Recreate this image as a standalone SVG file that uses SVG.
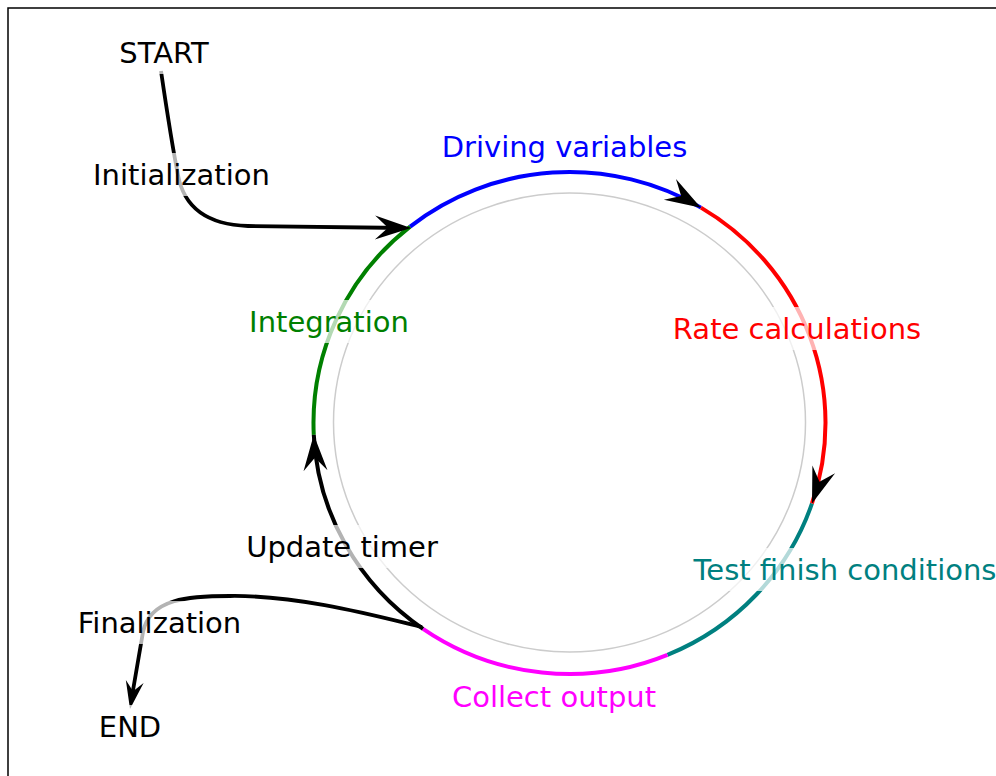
<svg xmlns="http://www.w3.org/2000/svg" xmlns:xlink="http://www.w3.org/1999/xlink" width="996" height="776" viewBox="0 0 996 776">
<style>
  .lbl { font-family: "DejaVu Sans", "Liberation Sans", sans-serif; font-size: 29px; text-anchor: middle; }
  .bg { fill: #ffffff; fill-opacity: 0.7; stroke: none; }
  .arc { fill: none; stroke-width: 4; stroke-linecap: butt; }
  .con { fill: none; stroke: #000000; stroke-width: 3.8; stroke-linecap: butt; stroke-linejoin: round; }
  .head { fill: #000000; stroke: none; }
</style>
<defs>
  <path id="ah" d="M0,0 L-36,-12 L-23,0 L-36,12 Z"/>
  <path id="ahs" d="M0,0 L-28,-9 L-18,0 L-28,9 Z"/>
</defs>
<rect x="8" y="8" width="1000" height="800" fill="#ffffff" stroke="#000000" stroke-width="1.5"/>
<ellipse cx="569.5" cy="422.5" rx="236" ry="229.5" fill="none" stroke="#cccccc" stroke-width="1.5"/>
<g id="connectors">
  <path class="arc" stroke="#008000" d="M313.78,434.82 A256,251 0 0 1 410.14,226.56"/>
  <path class="arc" stroke="#008080" d="M811.99,503.47 A256,251 0 0 1 667.47,654.89"/>
  <path class="arc" stroke="#ff00ff" d="M667.47,654.89 A256,251 0 0 1 423.03,628.86"/>
  <path class="arc" stroke="#0000ff" d="M410.14,226.56 A256,251 0 0 1 700.97,207.63"/>
  <path class="arc" stroke="#ff0000" d="M700.97,207.63 A256,251 0 0 1 811.99,503.47"/>
  <path class="arc" stroke="#000000" stroke-width="3.8" d="M423.03,628.86 A256,251 0 0 1 313.78,434.82"/>
  <path class="con" d="M161,71 C166,105 172,145 178,175 Q187,224 248,226 L405,228"/>
  <path class="con" d="M422,627 C380,617 300,595 230,596 C190,596 150,598 143,632 L131,702"/>
  <use href="#ah" class="head" transform="translate(700.97,207.63) rotate(30.4)"/>
  <use href="#ah" class="head" transform="translate(811.99,503.47) rotate(109.05)"/>
  <use href="#ah" class="head" transform="translate(313.78,434.82) rotate(-92.75)"/>
  <use href="#ah" class="head" transform="translate(411,228) rotate(0.7)"/>
  <use href="#ahs" class="head" transform="translate(130,709) rotate(99.7)"/>
</g>
<g id="start"><rect class="bg" x="113" y="31" width="102" height="43"/><text class="lbl" x="164" y="63" fill="#000000">START</text></g>
<g id="initialization"><rect class="bg" x="89" y="153" width="185" height="43"/><text class="lbl" x="181.5" y="185" fill="#000000">Initialization</text></g>
<g id="driving-variables"><rect class="bg" x="438" y="125" width="253" height="43"/><text class="lbl" x="564.5" y="157" fill="#0000ff">Driving variables</text></g>
<g id="rate-calculations"><rect class="bg" x="669" y="307" width="256" height="43"/><text class="lbl" x="797" y="339" fill="#ff0000">Rate calculations</text></g>
<g id="integration"><rect class="bg" x="245" y="300" width="168" height="43"/><text class="lbl" x="329" y="332" fill="#008000">Integration</text></g>
<g id="test-finish"><rect class="bg" x="686" y="548" width="310" height="43"/><text class="lbl" x="845" y="580" fill="#008080">Test finish conditions</text></g>
<g id="update-timer"><rect class="bg" x="242" y="525" width="200" height="43"/><text class="lbl" x="342" y="557" fill="#000000">Update timer</text></g>
<g id="finalization"><rect class="bg" x="73" y="601" width="173" height="43"/><text class="lbl" x="159.5" y="633" fill="#000000">Finalization</text></g>
<g id="end"><rect class="bg" x="95" y="705" width="70" height="43"/><text class="lbl" x="130" y="737" fill="#000000">END</text></g>
<g id="collect-output"><rect class="bg" x="448" y="676" width="212" height="42"/><text class="lbl" x="554" y="707" fill="#ff00ff">Collect output</text></g>
</svg>
